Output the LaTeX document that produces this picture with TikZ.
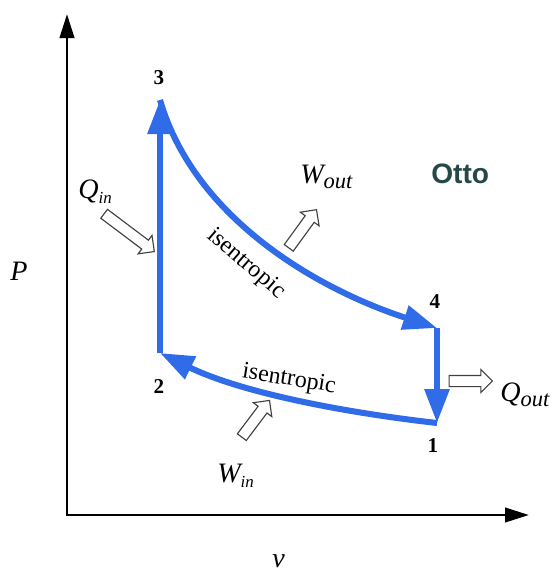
\documentclass[tikz,border=0pt]{standalone}
\usepackage{fontspec}
\setmainfont{Liberation Serif}
\newfontfamily\ottofont{Liberation Sans}
\usepackage{xcolor}
\usetikzlibrary{arrows.meta, shapes.arrows}
\definecolor{cycleblue}{RGB}{48,108,232}
\definecolor{ottoteal}{RGB}{38,72,72}
\newcommand{\lowidx}[2]{\raisebox{-0.45ex}{\fontsize{#1}{#1}\selectfont\itshape #2}}

\begin{document}
\begin{tikzpicture}[x=0.25mm, y=-0.25mm, >=Stealth,
    axis/.style={line width=2pt},
    process/.style={draw=cycleblue, line width=4.3pt, -{Triangle[length=8.5mm,width=6mm]}},
    statelbl/.style={font=\fontsize{15}{15}\selectfont\bfseries, inner sep=0pt},
    hollow/.style={single arrow, draw=black!75, fill=white, line width=0.8pt,
                   minimum width=5.5mm, single arrow head extend=1.5mm,
                   inner xsep=0pt, inner ysep=1.25mm},
    qty/.style={font=\fontsize{20}{20}\selectfont\itshape, inner sep=0pt, anchor=base west},
    along/.style={font=\fontsize{17}{17}\selectfont, inner sep=0pt}]
  \useasboundingbox (0,0) rectangle (559,572);

  % axes
  \coordinate (O) at (67,515);
  \coordinate (ytop) at (67,14);
  \coordinate (xend) at (529,515);
  \draw[axis, {Triangle[length=6mm,width=3.6mm]}-{Triangle[length=6mm,width=3.6mm]}]
    (ytop) -- (O) -- (xend);
  \node[qty] (P) at (10,280) {P};
  \node[qty] (v) at (272,567) {v};

  % states
  \coordinate (s1) at (437,423);
  \coordinate (s2) at (160,353);
  \coordinate (s3) at (160,100);
  \coordinate (s4) at (437,328);
  \node[statelbl] (n1) at (433,446) {1};
  \node[statelbl] (n2) at (159,387) {2};
  \node[statelbl] (n3) at (159,78) {3};
  \node[statelbl] (n4) at (435,302) {4};

  % cycle
  \draw[process] (s2) -- (s3);
  \draw[process] (s3) .. controls (195,220) and (320,290) .. (s4);
  \draw[process] (s4) -- (s1);
  \draw[process] (s1) .. controls (340,412) and (240,392) .. (s2);
  \node[along, rotate=-41] (upiso) at (246,264) {isentropic};
  \node[along, rotate=-9] (lowiso) at (289,380) {isentropic};

  % heat and work
  \node[hollow, minimum height=15.7mm, rotate=-37] (qinarrow) at (127,231) {};
  \node[hollow, minimum height=11.8mm, rotate=54] (woutarrow) at (301,231) {};
  \node[hollow, minimum height=10.8mm] (qoutarrow) at (468,381) {};
  \node[hollow, minimum height=11.5mm, rotate=53] (winarrow) at (254,421) {};
  \node[qty] (qin) at (78,198) {Q\lowidx{12}{in}};
  \node[qty] (wout) at (300,183) {W\lowidx{16}{out}};
  \node[qty] (qout) at (500,401) {Q\lowidx{16}{out}};
  \node[qty] (win) at (217,482) {W\lowidx{12}{in}};

  \node[font=\ottofont\bfseries\fontsize{20}{20}\selectfont, text=ottoteal,
        inner sep=0pt, anchor=base west] (otto) at (431,183) {Otto};
\end{tikzpicture}
\end{document}
